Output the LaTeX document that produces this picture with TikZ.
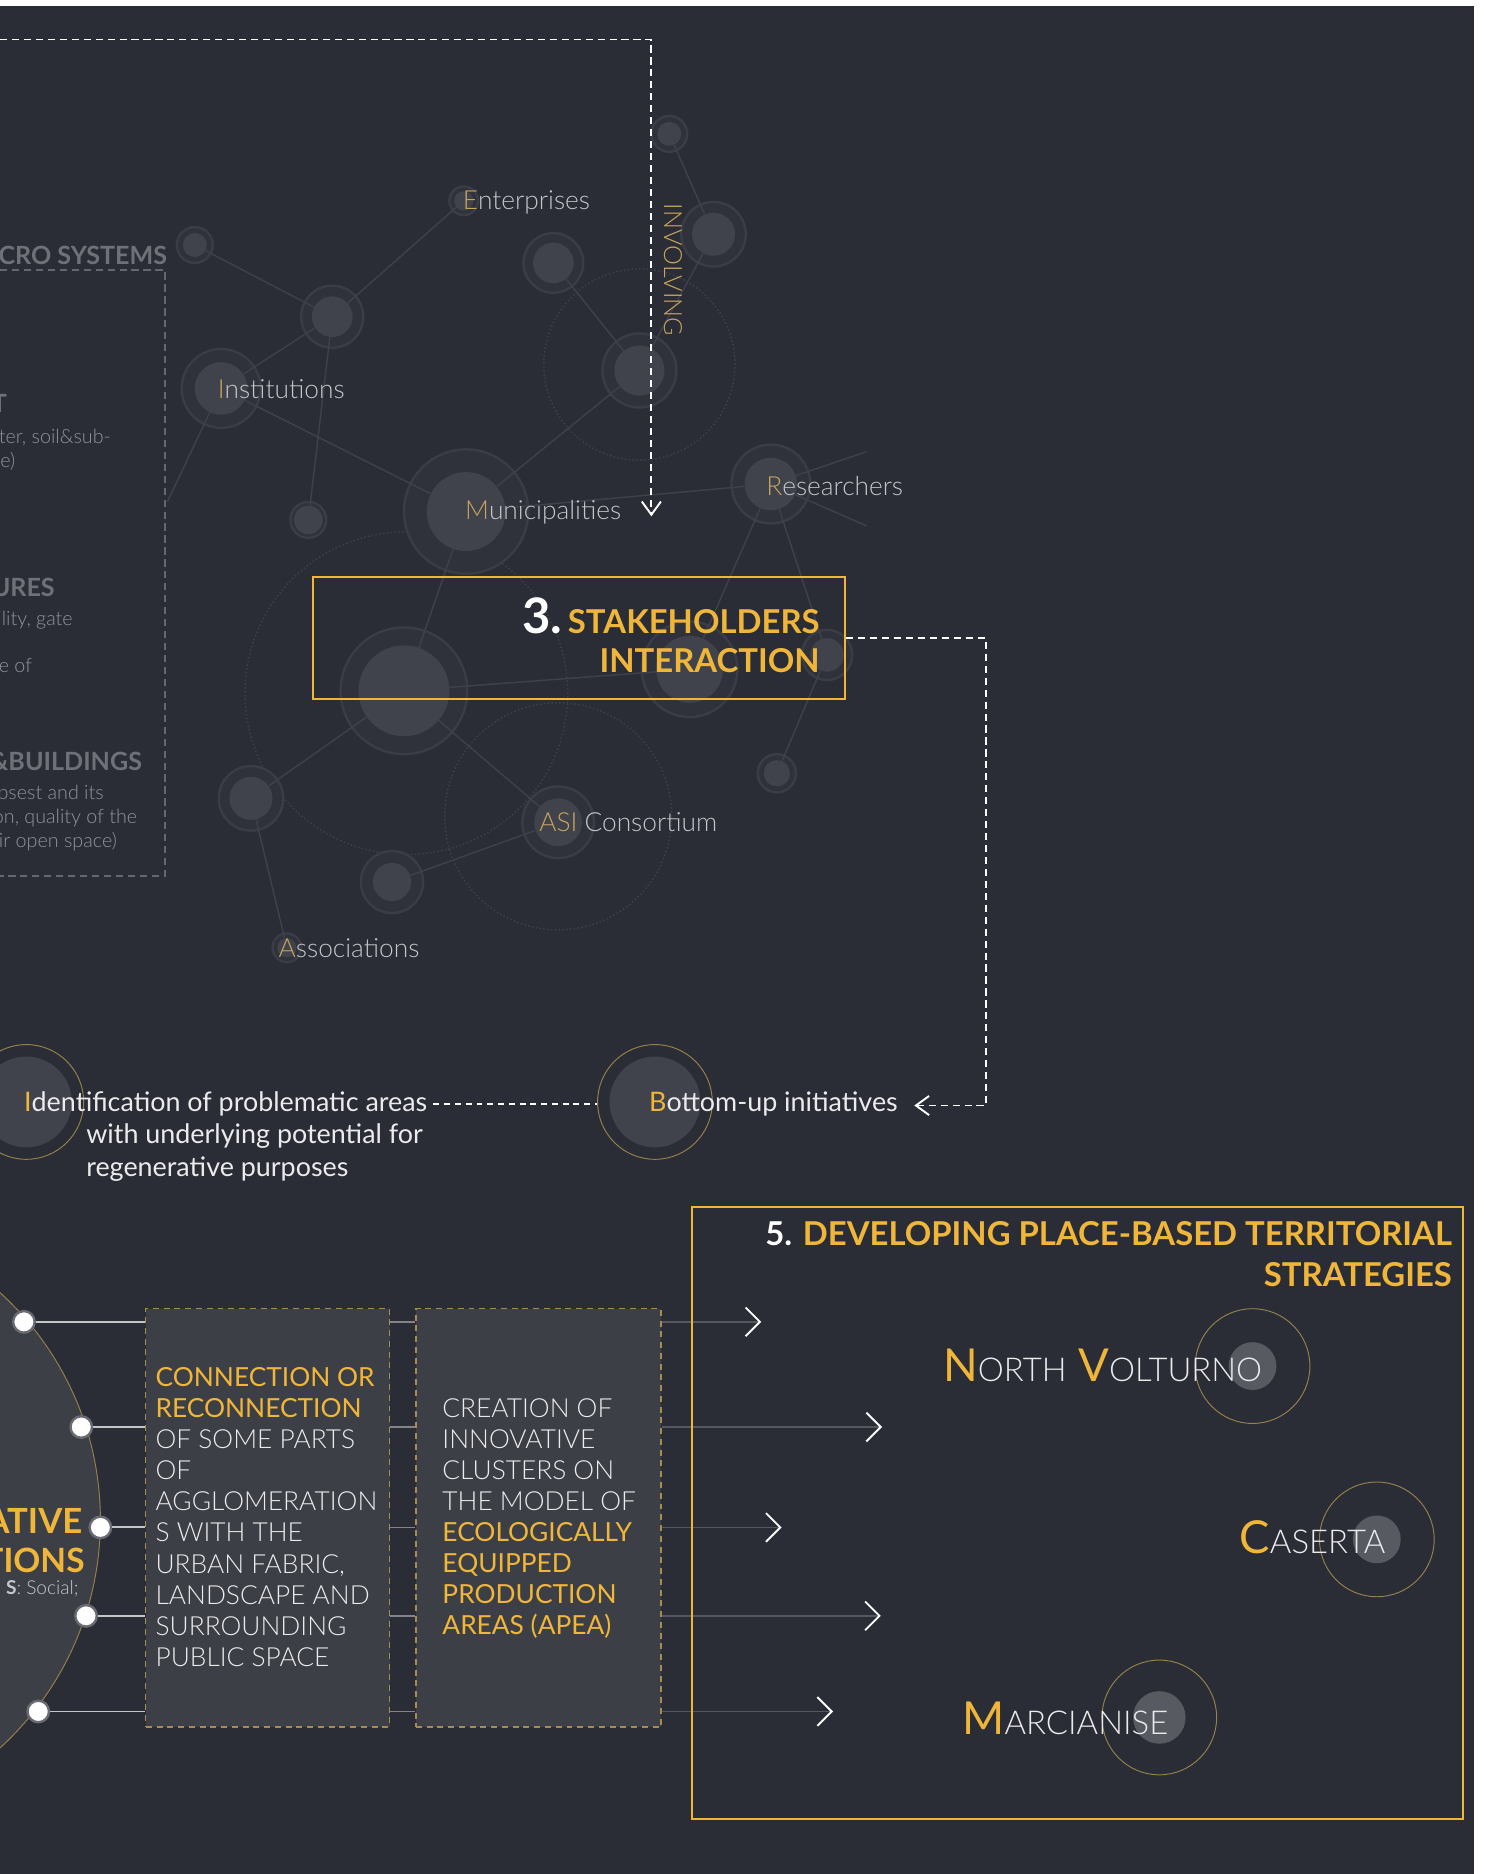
\documentclass[tikz,border=0pt]{standalone}
\usepackage{fontspec}
\setmainfont{Lato}
\IfFontExistsTF{Lato Light}{\newfontfamily\lightf{Lato Light}}{\newfontfamily\lightf{Lato}}
\usetikzlibrary{arrows.meta,calc}

\definecolor{bg}{RGB}{42,45,53}
\definecolor{gold}{RGB}{240,182,58}
\definecolor{goldm}{RGB}{200,165,95}
\definecolor{goldline}{RGB}{150,128,75}
\definecolor{goldbox}{RGB}{165,140,80}
\definecolor{discc}{RGB}{64,67,75}
\definecolor{bandc}{RGB}{47,50,58}
\definecolor{ringc}{RGB}{58,61,69}
\definecolor{netc}{RGB}{62,65,73}
\definecolor{txtw}{RGB}{235,235,237}
\definecolor{txtg}{RGB}{196,198,202}
\definecolor{boxg}{RGB}{100,103,110}
\definecolor{headg}{RGB}{110,113,120}
\definecolor{smallg}{RGB}{145,147,153}
\definecolor{panel}{RGB}{61,63,70}
\definecolor{dotout}{RGB}{105,107,114}
\definecolor{placedisc}{RGB}{88,90,98}
\definecolor{conng}{RGB}{196,198,202}
\definecolor{shortg}{RGB}{130,132,138}
\definecolor{arrg}{RGB}{85,88,96}

\newcommand{\fs}[1]{\fontsize{#1}{#1}\selectfont}
\newcommand{\netnode}[4]{%
  \fill[bandc] (#2) circle (#4pt);
  \draw[ringc, line width=2pt] (#2) circle (#4pt);
  \node[disc, minimum size=#3*2pt] (#1) at (#2) {};}
\newcommand{\goldnode}[5]{%
  \draw[goldline, line width=0.8pt] (#2) circle (#4pt);
  \node[circle, fill=#5, minimum size=#3*2pt, inner sep=0pt] (#1) at (#2) {};
  \node[circle, minimum size=#4*2pt, inner sep=0pt] (#1r) at (#2) {};}

\tikzset{
  disc/.style={circle, fill=discc, inner sep=0pt},
  netline/.style={draw=netc, line width=1.2pt},
  dotring/.style={draw=netc, dotted, line width=1.2pt},
  lbl/.style={inner sep=0pt, text=txtg, font=\lightf\fs{22}},
  dashline/.style={draw=white, line width=1.5pt, dash pattern=on 6pt off 4pt},
  barb/.style={-{Straight Barb[length=#1, width=16pt, line width=1.6pt]}},
  chev/.style={draw=arrg, line width=1.2pt, -{Straight Barb[length=12pt, width=24pt, line width=1.6pt, color=white]}},
  panelbox/.style={draw=goldbox, dash pattern=on 5pt off 4pt, fill=panel, line width=1pt, inner sep=0pt},
  whitedot/.style={circle, fill=white, draw=dotout, line width=2pt, minimum size=18pt, inner sep=0pt},
  connl/.style={draw=conng, line width=1.6pt},
  shortl/.style={draw=shortg, line width=1.2pt},
  cuttext/.style={inner sep=0pt, text=smallg, font=\lightf\fs{16.5}, anchor=base east},
  cuthead/.style={inner sep=0pt, text=headg, font=\bfseries\fs{21}, anchor=base east},
  wtext/.style={inner sep=0pt, text=txtw, font=\fs{22.5}, anchor=base west},
  boxtext/.style={anchor=north west, align=left, inner sep=0pt, font=\lightf\fontsize{22}{26}\selectfont, text=txtw},
  placetext/.style={anchor=base west, inner sep=0pt, text=txtw},
}
\newcommand{\gl}[1]{\textcolor{gold}{\normalfont\fontsize{22}{26}\selectfont #1}}

\begin{document}
\begin{tikzpicture}[x=1pt, y=-1pt]
\useasboundingbox (0,0) rectangle (1245,1568);
\fill[white] (0,0) rectangle (1245,1568);
\fill[bg] (0,5) rectangle (1233,1568);
\begin{scope}
\clip (0,5) rectangle (1233,1568);

% ---------- left micro systems box ----------
\coordinate (lbtl) at (0,226);
\coordinate (lbtr) at (138,226);
\coordinate (lbbr) at (138,733);
\coordinate (lbbl) at (0,733);
\draw[boxg, line width=1.3pt, dash pattern=on 6pt off 4pt] (lbtl) -- (lbtr) -- (lbbr) -- (lbbl);
\node[cuthead] (ms) at (140,221) {CRO SYSTEMS};
\node[cuthead] (h1) at (6,345) {T};
\node[cuttext] (c1) at (93,371) {ter, soil\&sub-};
\node[cuttext] (c2) at (13,391) {e)};
\node[cuthead] (h2) at (46,499) {URES};
\node[cuttext] (c3) at (61,523) {ility, gate};
\node[cuttext] (c4) at (27,563) {e of};
\node[cuthead] (h3) at (119,645) {\&BUILDINGS};
\node[cuttext] (c5) at (87,669) {psest and its};
\node[cuttext] (c6) at (115,689) {on, quality of the};
\node[cuttext] (c7) at (98,709) {eir open space)};

% ---------- network ----------
\draw[dotring] (535,305) circle (80pt);
\draw[dotring] (340,580) circle (135pt);
\draw[dotring] (467,683) circle (95pt);

\netnode{nA}{560,112}{10}{15}
\netnode{nB}{597,196}{18}{27}
\netnode{nC}{463,220}{17}{25}
\netnode{nD}{535,310}{21}{31}
\netnode{nE}{278,265}{17}{26}
\netnode{nF}{163,205}{10}{15}
\netnode{ent}{388,168}{8}{12}
\netnode{inst}{185,325}{22}{33}
\netnode{nG}{258,435}{12}{15}
\netnode{mun}{390,428}{33}{52}
\netnode{res}{645,405}{22}{33}
\netnode{nH}{338,578}{38}{53}
\netnode{nI}{577,560}{28}{40}
\netnode{nJ}{692,548}{14}{21}
\netnode{nK}{650,647}{11}{16}
\netnode{asi}{467,688}{20}{30}
\netnode{nL}{210,668}{18}{27}
\netnode{nM}{328,738}{16}{26}
\netnode{asso}{240,793}{8}{12}

\coordinate (instfree) at (140,420);
\coordinate (rf1) at (725,378);
\coordinate (rf2) at (725,440);
\draw[netline] (nF) -- (nE);
\draw[netline] (nE) -- (ent);
\draw[netline] (nE) -- (inst);
\draw[netline] (nE) -- (nG);
\draw[netline] (inst) -- (mun);
\draw[netline] (inst) -- (instfree);
\draw[netline] (nC) -- (nD);
\draw[netline] (nA) -- (nB);
\draw[netline] (nB) -- (nD);
\draw[netline] (nD) -- (mun);
\draw[netline] (mun) -- (res);
\draw[netline] (res) -- (rf1);
\draw[netline] (res) -- (rf2);
\draw[netline] (res) -- (nI);
\draw[netline] (res) -- (nJ);
\draw[netline] (nJ) -- (nK);
\draw[netline] (mun) -- (nH);
\draw[netline] (nH) -- (nI);
\draw[netline] (nH) -- (nL);
\draw[netline] (nH) -- (asi);
\draw[netline] (asi) -- (nM);
\draw[netline] (nL) -- (asso);

\node[lbl, anchor=west] (lent) at (387,169) {\textcolor{goldm}{E}nterprises};
\node[lbl, anchor=west] (linst) at (182,326) {\textcolor{goldm}{I}nstitutions};
\node[lbl, anchor=west] (lmun) at (389,429) {\textcolor{goldm}{M}unicipalities};
\node[lbl, anchor=west] (lres) at (641,407) {\textcolor{goldm}{R}esearchers};
\node[lbl, anchor=west] (lasi) at (451,688) {\textcolor{goldm}{ASI} Consortium};
\node[lbl, anchor=west] (lasso) at (233,793) {\textcolor{goldm}{A}ssociations};

% involving connector
\node[rotate=-90, text=goldm, font=\lightf\fs{21}, inner sep=0pt] (inv) at (563,226) {INVOLVING};
\coordinate (topstart) at (0,33);
\coordinate (invend) at (545,432);
\draw[dashline, barb=11pt] (topstart) -| (invend);

% ---------- stakeholders box ----------
\node[draw=gold, line width=2pt, minimum width=445pt, minimum height=102pt, inner sep=0pt] (stake) at (484.5,534) {};
\node[anchor=base east, inner sep=0pt, font=\bfseries\fs{27.5}, text=gold] (st1) at (686,530) {\textcolor{white}{\fs{41}3.}\,STAKEHOLDERS};
\node[anchor=base east, inner sep=0pt, font=\bfseries\fs{27.5}, text=gold] (st2) at (686,563) {INTERACTION};

% ---------- bottom-up / identification ----------
\goldnode{bu}{548,922}{38}{48}{discc}
\goldnode{idn}{22,922}{38}{48}{discc}
\node[wtext] (butext) at (543,930) {\textcolor{gold}{B}ottom-up initiatives};
\node[wtext] (id1) at (20,930) {\textcolor{gold}{I}dentification of problematic areas};
\node[wtext] (id2) at (72,957) {with underlying potential for};
\node[wtext] (id3) at (72,984) {regenerative purposes};
\draw[dashline, line width=1.2pt, dash pattern=on 5pt off 4pt] ([xshift=5pt]id1.east) -- (id1.east -| bur.west);

\coordinate (bucorner) at (825,925);
\coordinate (buarrow) at (765,925);
\draw[dashline, barb=11pt] (stake.east) -- (stake.east -| bucorner) -- (bucorner) -- (buarrow);

% ---------- bottom-left circle ----------
\fill[panel] (-174,1272) circle (258pt);
\draw[goldline, line width=0.8pt] (-174,1272) circle (258pt);
\node[anchor=base east, inner sep=0pt, font=\bfseries\fs{29}, text=gold] (bc1) at (69,1283) {ATIVE};
\node[anchor=base east, inner sep=0pt, font=\bfseries\fs{28}, text=gold] (bc2) at (71,1316) {TIONS};
\node[anchor=base east, inner sep=0pt, font=\lightf\fs{16}, text=txtg] (bc3) at (66,1334) {; {\normalfont\bfseries S}: Social;};

% boxes
\node[panelbox, minimum width=204pt, minimum height=350pt] (b1) at (224,1270) {};
\node[panelbox, minimum width=205pt, minimum height=350pt] (b2) at (450.5,1270) {};

\node[whitedot] (d1) at (20,1106) {};
\node[whitedot] (d2) at (68,1194) {};
\node[whitedot] (d3) at (84,1278) {};
\node[whitedot] (d4) at (72,1352) {};
\node[whitedot] (d5) at (32,1432) {};
\foreach \d in {d1,d2,d3,d4,d5} {
  \draw[connl] (\d.east) -- (\d.east -| b1.west);
  \draw[shortl] (b1.east |- \d) -- (b2.west |- \d);
}

\node[boxtext] (t1) at (130,1144)
 {\gl{CONNECTION OR}\\ \gl{RECONNECTION}\\ OF SOME PARTS\\ OF\\ AGGLOMERATION\\ S WITH THE\\ URBAN FABRIC,\\ LANDSCAPE AND\\ SURROUNDING\\ PUBLIC SPACE};
\node[boxtext] (t2) at (370,1170)
 {CREATION OF\\ INNOVATIVE\\ CLUSTERS ON\\ THE MODEL OF\\ \gl{ECOLOGICALLY}\\ \gl{EQUIPPED}\\ \gl{PRODUCTION}\\ \gl{AREAS (APEA)}};

% arrows to box 5
\coordinate (a1) at (637,1106);
\coordinate (a2) at (738,1194);
\coordinate (a3) at (654,1278);
\coordinate (a4) at (737,1352);
\coordinate (a5) at (697,1432);
\draw[chev] (b2.east |- a1) -- (a1);
\draw[chev] (b2.east |- a2) -- (a2);
\draw[chev] (b2.east |- a3) -- (a3);
\draw[chev] (b2.east |- a4) -- (a4);
\draw[chev] (b2.east |- a5) -- (a5);

% ---------- box 5 ----------
\node[draw=gold, line width=2pt, minimum width=645pt, minimum height=512pt, inner sep=0pt] (b5) at (901.5,1266) {};
\node[anchor=base east, inner sep=0pt, font=\bfseries\fs{27.5}, text=gold] (t5a) at (1215,1042) {\textcolor{white}{5.} DEVELOPING PLACE-BASED TERRITORIAL};
\node[anchor=base east, inner sep=0pt, font=\bfseries\fs{27.5}, text=gold] (t5b) at (1215,1076) {STRATEGIES};

\goldnode{nv}{1048,1143}{20}{48}{placedisc}
\goldnode{cas}{1152,1288}{20}{48}{placedisc}
\goldnode{mar}{970,1437}{22}{48}{placedisc}
\node[placetext] (nvt) at (789,1156) {\fs{38}\textcolor{gold}{N}{\lightf\fs{27.5}ORTH} \fs{38}\textcolor{gold}{V}{\lightf\fs{27.5}OLTURNO}};
\node[placetext] (cast) at (1037,1300) {\fs{38}\textcolor{gold}{C}{\lightf\fs{27.5}ASERTA}};
\node[placetext] (mart) at (805,1451) {\fs{38}\textcolor{gold}{M}{\lightf\fs{27.5}ARCIANISE}};

\end{scope}
\end{tikzpicture}
\end{document}
